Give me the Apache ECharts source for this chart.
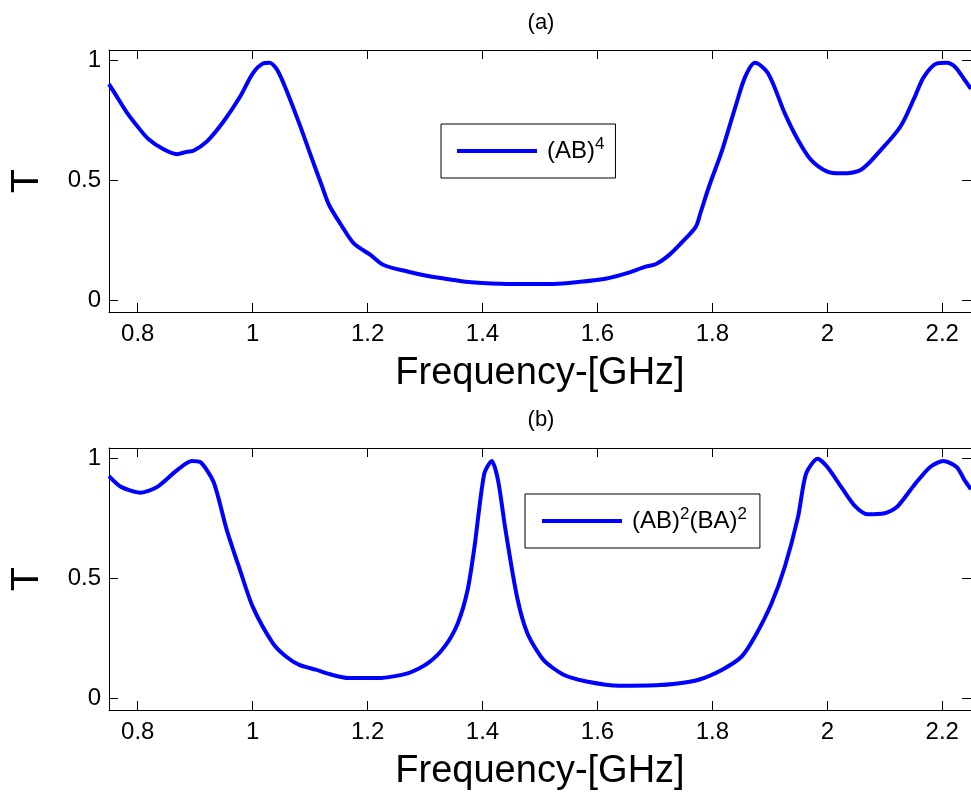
<!DOCTYPE html>
<html>
<head>
<meta charset="utf-8">
<script src="https://cdn.jsdelivr.net/npm/echarts@6/dist/echarts.min.js"></script>
<style>
html,body{margin:0;padding:0;background:#fff;}
#chart{width:971px;height:796px;}
</style>
</head>
<body>
<div id="chart"></div>
<script>
// ---- data ----
const freqA = [0.75,0.762,0.78,0.80,0.819,0.845,0.868,0.886,0.897,0.92,0.949,0.978,1.0,1.018,1.029,1.041,1.055,1.081,1.104,1.121,1.133,1.156,1.176,1.205,1.228,1.271,1.305,1.351,1.38,1.443,1.524,1.57,1.616,1.65,1.684,1.702,1.725,1.748,1.771,1.779,1.794,1.817,1.84,1.857,1.874,1.897,1.926,1.949,1.972,2.0,2.024,2.058,2.093,2.127,2.151,2.168,2.191,2.208,2.222,2.239,2.25];
const tA = [0.90,0.854,0.785,0.722,0.67,0.628,0.608,0.618,0.622,0.66,0.743,0.847,0.944,0.986,0.989,0.965,0.896,0.736,0.583,0.472,0.396,0.305,0.236,0.188,0.146,0.118,0.10,0.083,0.074,0.067,0.067,0.076,0.09,0.111,0.139,0.15,0.188,0.243,0.305,0.361,0.472,0.625,0.805,0.93,0.989,0.944,0.778,0.667,0.583,0.535,0.528,0.542,0.625,0.722,0.84,0.93,0.986,0.989,0.972,0.917,0.88];
const freqB = [0.75,0.771,0.805,0.834,0.868,0.894,0.909,0.932,0.955,0.978,1.0,1.035,1.058,1.081,1.11,1.133,1.167,1.219,1.271,1.305,1.334,1.357,1.374,1.386,1.403,1.416,1.427,1.44,1.46,1.478,1.506,1.541,1.581,1.638,1.702,1.736,1.776,1.817,1.851,1.874,1.903,1.926,1.949,1.963,1.983,2.0,2.024,2.047,2.07,2.098,2.121,2.151,2.179,2.202,2.225,2.239,2.25];
const tB = [0.925,0.88,0.856,0.88,0.949,0.988,0.983,0.90,0.70,0.533,0.381,0.229,0.173,0.138,0.118,0.10,0.083,0.083,0.104,0.145,0.214,0.312,0.45,0.63,0.935,0.988,0.907,0.70,0.422,0.27,0.159,0.097,0.069,0.051,0.053,0.059,0.076,0.118,0.173,0.256,0.395,0.547,0.755,0.935,0.997,0.963,0.88,0.803,0.766,0.769,0.796,0.887,0.963,0.988,0.963,0.907,0.87];
const xTicks = [0.8,1.0,1.2,1.4,1.6,1.8,2.0,2.2];
const yTicks = [0,0.5,1];
const panelTitles = ['(a)','(b)'];
const seriesNames = ['(AB)^4','(AB)^2(BA)^2'];
const legendRich = ['(AB){s|4}','(AB){s|2}(BA){s|2}'];
const xName = 'Frequency-[GHz]';
const yName = 'T';

const FONT = "'Liberation Sans', Arial, Helvetica, sans-serif";
const chart = echarts.init(document.getElementById('chart'), null, {renderer:'canvas'});

const grids = [
  {left:108, top:50, width:867, height:262},
  {left:108, top:448, width:867, height:262}
];

function xAx(g, pos, main){
  return {
    type:'value', gridIndex:g, position:pos, min:0.75, max:2.25,
    name: main ? xName : '', nameLocation:'middle', nameGap:43,
    nameTextStyle:{fontFamily:FONT, fontSize:38, color:'#000'},
    axisLine:{show:true, onZero:false, lineStyle:{color:'#000', width:1}},
    axisTick:{show:true, inside:true, length:9, customValues:xTicks, lineStyle:{color:'#000'}},
    axisLabel:{show:main, customValues:xTicks, margin:10, fontFamily:FONT, fontSize:24, color:'#000',
      formatter:v=>String(Math.round(v*10)/10)},
    splitLine:{show:false}
  };
}
function yAx(g, pos, main){
  return {
    type:'value', gridIndex:g, position:pos, min:-0.05, max:1.042,
    name: main ? yName : '', nameLocation:'middle', nameGap:62,
    nameTextStyle:{fontFamily:FONT, fontSize:39, color:'#000'},
    axisLine:{show:true, onZero:false, lineStyle:{color:'#000', width:1}},
    axisTick:{show:true, inside:true, length:9, customValues:yTicks, lineStyle:{color:'#000'}},
    axisLabel:{show:main, customValues:yTicks, margin:8, fontFamily:FONT, fontSize:24, color:'#000'},
    splitLine:{show:false}
  };
}

const richSup = {s:{fontFamily:FONT, fontSize:17, color:'#000', padding:[0,0,13,0]}};

const option = {
  backgroundColor:'#fff',
  animation:false,
  title:[
    {text:panelTitles[0], left:541, top:12, padding:0, textAlign:'center',
     textStyle:{fontFamily:FONT, fontSize:22, fontWeight:'normal', color:'#000'}},
    {text:panelTitles[1], left:541, top:409, padding:0, textAlign:'center',
     textStyle:{fontFamily:FONT, fontSize:22, fontWeight:'normal', color:'#000'}}
  ],
  grid:grids,
  xAxis:[xAx(0,'bottom',true), xAx(0,'top',false), xAx(1,'bottom',true), xAx(1,'top',false)],
  yAxis:[yAx(0,'left',true), yAx(0,'right',false), yAx(1,'left',true), yAx(1,'right',false)],
  legend:[
    {data:[seriesNames[0]], left:441, top:124, orient:'horizontal',
     backgroundColor:'#fff', borderColor:'#000', borderWidth:1, borderRadius:0,
     padding:[12,11,12,16], itemWidth:80, itemHeight:4, itemGap:0, icon:'rect',
     textStyle:{fontFamily:FONT, fontSize:24, color:'#000', lineHeight:30, padding:[0,0,0,5], rich:richSup},
     formatter:()=>legendRich[0]},
    {data:[seriesNames[1]], left:525, top:494, orient:'horizontal',
     backgroundColor:'#fff', borderColor:'#000', borderWidth:1, borderRadius:0,
     padding:[12,13,12,17], itemWidth:80, itemHeight:4, itemGap:0, icon:'rect',
     textStyle:{fontFamily:FONT, fontSize:24, color:'#000', lineHeight:30, padding:[0,0,0,5], rich:richSup},
     formatter:()=>legendRich[1]}
  ],
  series:[
    {name:seriesNames[0], type:'line', xAxisIndex:0, yAxisIndex:0, showSymbol:false, symbol:'none',
     smooth:0.3, clip:true, lineStyle:{color:'#0000ff', width:4, join:'round'}, itemStyle:{color:'#0000ff'},
     data:freqA.map((f,i)=>[f,tA[i]])},
    {name:seriesNames[1], type:'line', xAxisIndex:2, yAxisIndex:2, showSymbol:false, symbol:'none',
     smooth:0.25, clip:true, lineStyle:{color:'#0000ff', width:4, join:'round'}, itemStyle:{color:'#0000ff'},
     data:freqB.map((f,i)=>[f,tB[i]])}
  ]
};
chart.setOption(option);
</script>
</body>
</html>
